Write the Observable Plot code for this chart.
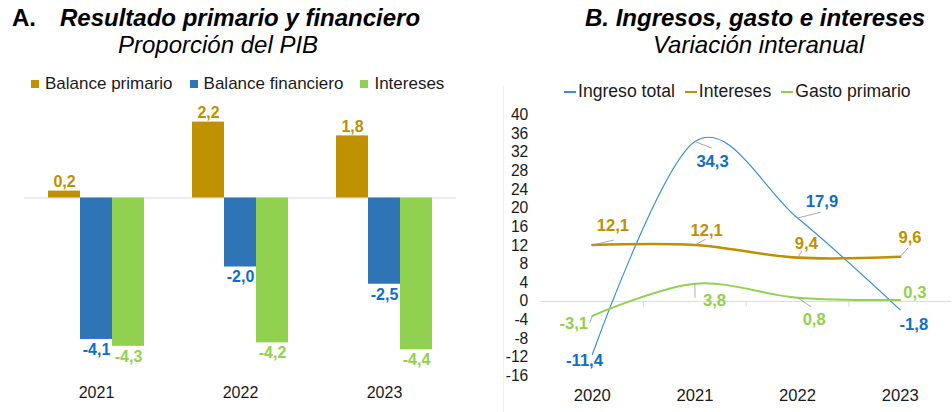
<!DOCTYPE html>
<html>
<head>
<meta charset="utf-8">
<script src="https://cdn.jsdelivr.net/npm/d3@7"></script>
<script src="https://cdn.jsdelivr.net/npm/@observablehq/plot@0.6"></script>
<style>
  body { margin: 0; background: #fff; font-family: "Liberation Sans", Arial, sans-serif; }
  #root { position: relative; width: 952px; height: 412px; overflow: hidden; background: #fff; }
  .abs { position: absolute; white-space: nowrap; }
  .title { font-size: 24px; line-height: 24px; font-weight: bold; font-style: italic; color: #000; }
  .sub { font-size: 24px; line-height: 24px; font-style: italic; color: #000; }
  .leg { display: flex; align-items: center; font-size: 17px; line-height: 17px; color: #1a1a1a; }
  .leg .item { display: flex; align-items: center; }
  .sq { width: 8px; height: 8px; margin-right: 6px; }
  .ln { width: 12px; height: 2px; margin-right: 2px; }
  #legB { font-size: 17.6px; }
  #sep { position: absolute; left: 503px; top: 85px; width: 1px; height: 327px; background: #f0f0f0; }
  #chartA { position: absolute; left: 0; top: 90px; width: 476px; height: 322px; }
  #chartB { position: absolute; left: 476px; top: 95px; width: 476px; height: 317px; overflow: hidden; }
  svg { overflow: visible; }
</style>
</head>
<body>
<div id="root">
  <div class="abs title" style="left:12px;top:6px;font-style:normal">A.</div>
  <div class="abs title" style="left:60px;top:6px">Resultado primario y financiero</div>
  <div class="abs sub" style="left:118px;top:33px">Proporción del PIB</div>
  <div class="abs leg" id="legA" style="left:31px;top:75px"></div>

  <div id="sep"></div>
  <div class="abs title" style="left:585px;top:6px">B. Ingresos, gasto e intereses</div>
  <div class="abs sub" style="left:653px;top:33px">Variación interanual</div>
  <div class="abs leg" id="legB" style="left:564px;top:83px"></div>

  <div id="chartA"></div>
  <div id="chartB"></div>
</div>
<script>
// ---------- Data: Panel A ----------
const yearsA = ["2021", "2022", "2023"];
const seriesA = ["Balance primario", "Balance financiero", "Intereses"];
const balancePrimario = [0.2, 2.2, 1.8];
const balanceFinanciero = [-4.1, -2.0, -2.5];
const interesesA = [-4.3, -4.2, -4.4];

// ---------- Data: Panel B ----------
const yearsB = ["2020", "2021", "2022", "2023"];
const seriesB = ["Ingreso total", "Intereses", "Gasto primario"];
const ingresoTotal = [-11.4, 34.3, 17.9, -1.8];
const interesesB = [12.1, 12.1, 9.4, 9.6];
const gastoPrimario = [-3.1, 3.8, 0.8, 0.3];
const yTicksB = [-16, -12, -8, -4, 0, 4, 8, 12, 16, 20, 24, 28, 32, 36, 40];

// ---------- Styles ----------
const FONT = "Liberation Sans, Arial, sans-serif";
const barColors = ["#bf9000", "#2e75b6", "#92d050"];
const barLabelColors = ["#bf9000", "#0f6fc6", "#92d050"];
const lineColors = ["#3a8fd9", "#bf9000", "#92d050"];
const lineLabelColors = ["#0f6fc6", "#bf9000", "#92d050"];
const lineWidths = [1.2, 2.6, 2];
const fmt = v => v.toFixed(1).replace(".", ",");

// ---------- Legends ----------
const legA = document.getElementById("legA");
seriesA.forEach((s, i) => {
  const it = document.createElement("div");
  it.className = "item";
  it.style.marginRight = i < seriesA.length - 1 ? "17px" : "0";
  it.innerHTML = `<span class="sq" style="background:${barColors[i]}"></span><span>${s}</span>`;
  legA.appendChild(it);
});
const legB = document.getElementById("legB");
seriesB.forEach((s, i) => {
  const it = document.createElement("div");
  it.className = "item";
  it.style.marginRight = i < seriesB.length - 1 ? "10px" : "0";
  it.innerHTML = `<span class="ln" style="background:${lineColors[i]}"></span><span>${s}</span>`;
  legB.appendChild(it);
});

// ---------- Panel A ----------
const valuesA = [balancePrimario, balanceFinanciero, interesesA];
const tableA = seriesA.flatMap((s, si) => yearsA.map((y, i) => ({year: y, series: s, value: valuesA[si][i]})));
const insetsA = [[0, 64], [32, 32], [64, 0]];
const dxA = [-32, 0, 32];

const marksA = [Plot.ruleY([0], {stroke: "#d9d9d9", strokeWidth: 1})];
seriesA.forEach((s, si) => {
  const rows = tableA.filter(d => d.series === s);
  marksA.push(Plot.barY(rows, {x: "year", y: "value", fill: barColors[si], insetLeft: insetsA[si][0], insetRight: insetsA[si][1]}));
  marksA.push(Plot.text(rows.filter(d => d.value >= 0), {x: "year", y: "value", text: d => fmt(d.value), dx: dxA[si], dy: -4, lineAnchor: "bottom", fill: barLabelColors[si], fontWeight: "bold", fontSize: 16}));
  marksA.push(Plot.text(rows.filter(d => d.value < 0), {x: "year", y: "value", text: d => fmt(d.value), dx: dxA[si], dy: 4, lineAnchor: "top", fill: barLabelColors[si], fontWeight: "bold", fontSize: 16}));
});

const plotA = Plot.plot({
  width: 476, height: 322,
  marginLeft: 24, marginRight: 20, marginTop: 4, marginBottom: 42,
  x: {type: "band", domain: yearsA, paddingInner: 1/3, paddingOuter: 1/6, tickSize: 0, tickPadding: 16, label: null},
  y: {domain: [-5, 3], axis: null},
  style: {fontFamily: FONT, fontSize: "16px", color: "#1a1a1a", background: "transparent"},
  marks: marksA
});
document.getElementById("chartA").appendChild(plotA);

// ---------- Panel B ----------
const valuesB = [ingresoTotal, interesesB, gastoPrimario];
const tableB = seriesB.flatMap((s, si) => yearsB.map((y, i) => ({year: y, series: s, value: valuesB[si][i]})));

// label placement (pixel offsets from each point), per series in year order
const labelOffsets = [
  [[-8, 6], [18, 21], [25, -17], [14, 15]],
  [[21, -20], [12, -15], [9, -14], [10, -19]],
  [[-19, 8], [20, 17], [17, 22], [15, -8]]
];
// leader lines: [series index, year index, rotate (deg), length (px)]
const leaders = [
  [0, 1, 111, 18], [0, 2, 76, 24],
  [1, 0, 77, 22], [1, 1, 61, 12], [1, 2, 33, 8], [1, 3, 42, 12],
  [2, 0, 200, 7], [2, 1, 180, 14], [2, 2, 124, 16]
];
const leaderShape = {draw(context, l) { context.moveTo(0, 0); context.lineTo(0, -l); }};

const marksB = [
  Plot.ruleY([0], {stroke: "#d9d9d9", strokeWidth: 1}),
  Plot.ruleX(yearsB.slice(1), {x: d => d, y1: 0, y2: -1.25, dx: -52.5, stroke: "#d9d9d9", strokeWidth: 1})
];
seriesB.forEach((s, si) => {
  const rows = tableB.filter(d => d.series === s);
  marksB.push(Plot.line(rows, {x: "year", y: "value", stroke: lineColors[si], strokeWidth: lineWidths[si], curve: "cardinal"}));
});
leaders.forEach(([si, yi, rot, len]) => {
  const row = tableB.filter(d => d.series === seriesB[si] && d.year === yearsB[yi]);
  marksB.push(Plot.vector(row, {x: "year", y: "value", rotate: rot, length: len, anchor: "start", shape: leaderShape, stroke: "#9a9a9a", strokeWidth: 0.8}));
});
seriesB.forEach((s, si) => {
  yearsB.forEach((y, yi) => {
    const row = tableB.filter(d => d.series === s && d.year === y);
    const [dx, dy] = labelOffsets[si][yi];
    marksB.push(Plot.text(row, {x: "year", y: "value", text: d => fmt(d.value), dx, dy, lineAnchor: "middle", textAnchor: "middle", fill: lineLabelColors[si], fontWeight: "bold", fontSize: 17}));
  });
});

const plotB = Plot.plot({
  width: 487, height: 317,
  marginLeft: 66, marginRight: 1, marginTop: 20, marginBottom: 30,
  x: {type: "band", domain: yearsB, padding: 0, tickSize: 0, tickPadding: 14, label: null},
  y: {domain: [-16, 40], ticks: yTicksB, tickSize: 0, tickPadding: 13, label: null, tickFormat: d => String(d)},
  style: {fontFamily: FONT, fontSize: "16px", color: "#1a1a1a", background: "transparent"},
  marks: marksB
});
// enlarge the x tick labels
plotB.querySelectorAll("[aria-label='x-axis tick label'] text, g[aria-label='x-axis'] text").forEach(t => t.style.fontSize = "17px");
document.getElementById("chartB").appendChild(plotB);
</script>
</body>
</html>
